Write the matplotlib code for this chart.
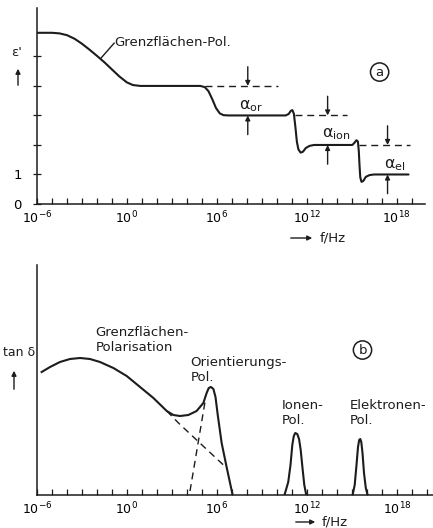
import matplotlib
matplotlib.use("Agg")
import matplotlib.pyplot as plt
from matplotlib.patches import FancyArrowPatch

INK = "#1c1c1c"
plt.rcParams["font.family"] = ["DejaVu Sans"]
plt.rcParams["text.color"] = INK

# --- panel (a): eps' vs log10(f / Hz)
eps_logf = [-6, -5.0, -4.5, -4.0, -3.5, -3.0, -2.5, -2.0, -1.5, -1.0, -0.5, 0.0, 0.4, 0.9,
            4.9, 5.2, 5.45, 5.7, 5.95, 6.2, 6.45, 6.8,
            10.6, 10.8, 10.95, 11.05, 11.15, 11.25, 11.35, 11.45, 11.6, 11.75, 11.95, 12.2, 12.5,
            15.05, 15.2, 15.32, 15.42, 15.48, 15.53, 15.58, 15.66, 15.78, 15.95, 16.2, 16.5, 18.8]
eps_val = [5.8, 5.8, 5.78, 5.72, 5.6, 5.43, 5.23, 5.02, 4.8, 4.56, 4.32, 4.12, 4.03, 4.0,
           4.0, 3.96, 3.82, 3.55, 3.25, 3.07, 3.01, 3.0,
           3.0, 3.05, 3.16, 3.18, 3.05, 2.6, 2.1, 1.85, 1.74, 1.77, 1.9, 1.97, 2.0,
           2.0, 2.08, 2.16, 2.12, 1.8, 1.3, 0.9, 0.75, 0.78, 0.92, 0.98, 1.0, 1.0]

# dashed reference levels: (start, end, level)
ref_levels = [(5.2, 10.1, 4.0), (11.2, 14.7, 3.0), (15.5, 18.9, 2.0)]
# alpha arrows: x, upper level, lower level
alpha_x = [8.07, 13.4, 17.4]
alpha_hi = [4.0, 3.0, 2.0]
alpha_lo = [3.0, 2.0, 1.0]
alpha_txt = [r"$\mathrm{α}_{\mathrm{or}}$", r"$\mathrm{α}_{\mathrm{ion}}$",
             r"$\mathrm{α}_{\mathrm{el}}$"]
alpha_txt_pos = [(8.3, 3.32), (14.0, 2.36), (17.9, 1.3)]

# --- panel (b): tan delta
tan_logf = [-5.69, -5.13, -4.47, -3.8, -3.13, -2.47, -1.8, -0.91, -0.02, 0.87, 1.76, 2.65,
            3.09, 3.53, 4.09, 4.64, 5.09, 5.31, 5.45, 5.6, 5.76, 5.9, 6.05, 6.31, 6.64, 6.87, 7.04]
tan_val = [1.23, 1.28, 1.33, 1.36, 1.37, 1.36, 1.33, 1.27, 1.19, 1.08, 0.97, 0.84,
           0.80, 0.79, 0.80, 0.84, 0.92, 1.02, 1.07, 1.08, 1.06, 0.98, 0.8, 0.52, 0.28, 0.12, 0.0]
grenz_dash_logf = [2.65, 3.5, 4.5, 5.5, 6.5]
grenz_dash_val = [0.84, 0.71, 0.57, 0.43, 0.29]
orient_dash_logf = [4.2, 5.2]
orient_dash_val = [0.04, 0.93]
ion_logf = [10.5, 10.75, 10.9, 11.02, 11.12, 11.22, 11.35, 11.47, 11.58, 11.7, 11.82, 11.95]
ion_val = [0.0, 0.13, 0.3, 0.5, 0.59, 0.62, 0.61, 0.56, 0.45, 0.27, 0.1, 0.0]
el_logf = [15.04, 15.18, 15.3, 15.4, 15.48, 15.55, 15.62, 15.7, 15.8, 15.92, 16.04]
el_val = [0.0, 0.1, 0.3, 0.48, 0.55, 0.56, 0.53, 0.42, 0.22, 0.07, 0.0]

tick_pos = [-6, 0, 6, 12, 18]
tick_labels = ["10$^{-6}$", "10$^{0}$", "10$^{6}$", "10$^{12}$", "10$^{18}$"]

fig = plt.figure(figsize=(4.33, 5.28), dpi=100)
W, H = 433.0, 528.0
LW = 1.5


def style_axes(ax, xmax):
    for s in ["top", "right"]:
        ax.spines[s].set_visible(False)
    for s in ["left", "bottom"]:
        ax.spines[s].set_linewidth(1.1)
        ax.spines[s].set_color(INK)
    ax.set_xlim(-6, xmax)
    ax.set_xticks(tick_pos)
    ax.set_xticklabels(tick_labels, fontsize=9)
    ax.set_xticks(range(-5, int(xmax) + 1), minor=True)
    ax.tick_params(axis="x", which="both", direction="in", length=4, width=0.9,
                   color=INK, pad=4)


def arrow(p0, p1):
    fig.add_artist(FancyArrowPatch(p0, p1, transform=fig.transFigure, arrowstyle="-|>",
                                   mutation_scale=7, lw=1.0, color=INK))


circ = dict(boxstyle="circle,pad=0.2", fc="none", ec=INK, lw=1.1)

# panel a
ax1 = fig.add_axes([37 / W, 1 - 204 / H, 388 / W, 196 / H])
style_axes(ax1, 19.9)
ax1.set_ylim(0, 6.64)
ax1.set_yticks([0, 1, 2, 3, 4, 5])
ax1.set_yticklabels(["0", "1", "", "", "", ""], fontsize=9.5)
ax1.tick_params(axis="y", direction="inout", length=6, width=0.9, color=INK, pad=8)

ax1.plot(eps_logf, eps_val, color=INK, lw=LW, solid_capstyle="round")
for x0, x1, lev in ref_levels:
    ax1.plot([x0, x1], [lev, lev], color=INK, lw=1.0, dashes=(5, 3.5))
for x, hi, lo in zip(alpha_x, alpha_hi, alpha_lo):
    ax1.annotate("", xy=(x, hi), xytext=(x, hi + 0.65),
                 arrowprops=dict(arrowstyle="-|>", color=INK, lw=1.0, mutation_scale=7,
                                 shrinkA=0, shrinkB=0))
    ax1.annotate("", xy=(x, lo), xytext=(x, lo - 0.65),
                 arrowprops=dict(arrowstyle="-|>", color=INK, lw=1.0, mutation_scale=7,
                                 shrinkA=0, shrinkB=0))
for t, (tx, ty) in zip(alpha_txt, alpha_txt_pos):
    ax1.text(tx, ty, t, fontsize=11.5, ha="center", va="center")

ax1.text(-0.85, 5.48, "Grenzflächen-Pol.", fontsize=9.5, ha="left", va="center")
ax1.plot([-0.85, -1.75], [5.45, 4.93], color=INK, lw=1.0)
ax1.text(16.87, 4.47, "a", fontsize=9.5, ha="center", va="center", bbox=circ)

# panel b
ax2 = fig.add_axes([37 / W, 1 - 495 / H, 396 / W, 230 / H])
style_axes(ax2, 20.4)
ax2.set_ylim(0, 2.3)
ax2.set_yticks([])

ax2.plot(tan_logf, tan_val, color=INK, lw=LW)
ax2.plot(grenz_dash_logf, grenz_dash_val, color=INK, lw=1.0, dashes=(5, 3.5))
ax2.plot(orient_dash_logf, orient_dash_val, color=INK, lw=1.0, dashes=(5, 3.5))
ax2.plot(ion_logf, ion_val, color=INK, lw=LW)
ax2.plot(el_logf, el_val, color=INK, lw=LW)

for txt, x, y in [("Grenzflächen-\nPolarisation", -2.1, 1.55),
                  ("Orientierungs-\nPol.", 4.24, 1.25),
                  ("Ionen-\nPol.", 10.3, 0.82),
                  ("Elektronen-\nPol.", 14.87, 0.82)]:
    ax2.text(x, y, txt, fontsize=9.5, ha="left", va="center", linespacing=1.15)
ax2.text(15.7, 1.45, "b", fontsize=9.5, ha="center", va="center", bbox=circ)

# axis labels with arrows
fig.text(17 / W, 1 - 52 / H, "ε'", fontsize=9.5, ha="center", va="center")
arrow((18 / W, 1 - 88 / H), (18 / W, 1 - 66 / H))
fig.text(19 / W, 1 - 353 / H, "tan δ", fontsize=9, ha="center", va="center")
arrow((14 / W, 1 - 392 / H), (14 / W, 1 - 368 / H))

arrow((288 / W, 1 - 238 / H), (315 / W, 1 - 238 / H))
fig.text(320 / W, 1 - 238 / H, "f/Hz", fontsize=9.5, ha="left", va="center")
arrow((293 / W, 1 - 522 / H), (318 / W, 1 - 522 / H))
fig.text(322 / W, 1 - 522 / H, "f/Hz", fontsize=9.5, ha="left", va="center")

fig.savefig("out.png", dpi=100)
